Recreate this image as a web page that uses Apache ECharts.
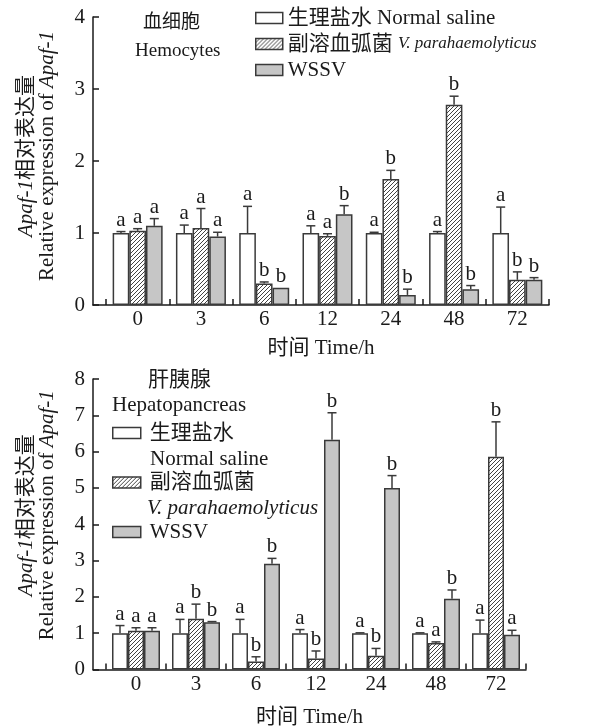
<!DOCTYPE html>
<html><head><meta charset="utf-8">
<script src="https://cdn.jsdelivr.net/npm/echarts@6/dist/echarts.min.js"></script>
<style>html,body{margin:0;padding:0;background:#fff}#c{width:594px;height:726px}</style>
</head><body><div id="c"></div>
<script>
// ---------- data ----------
const categories = ['0', '3', '6', '12', '24', '48', '72'];
const seriesNames = ['生理盐水 Normal saline', '副溶血弧菌 V. parahaemolyticus', 'WSSV'];

// Hemocytes (top panel): mean and top of error bar
const hemoNS    = [1.00, 1.00, 1.00, 1.00, 1.00, 1.00, 1.00];
const hemoNSErr = [1.02, 1.11, 1.37, 1.10, 1.01, 1.02, 1.36];
const hemoVP    = [1.03, 1.07, 0.30, 0.96, 1.75, 2.78, 0.35];
const hemoVPErr = [1.06, 1.34, 0.32, 0.99, 1.87, 2.90, 0.46];
const hemoWS    = [1.10, 0.95, 0.24, 1.26, 0.14, 0.22, 0.35];
const hemoWSErr = [1.20, 1.01, 0.24, 1.38, 0.22, 0.27, 0.38];
const hemoNSSig = ['a', 'a', 'a', 'a', 'a', 'a', 'a'];
const hemoVPSig = ['a', 'a', 'b', 'a', 'b', 'b', 'b'];
const hemoWSSig = ['a', 'a', 'b', 'b', 'b', 'b', 'b'];

// Hepatopancreas (bottom panel)
const hepaNS    = [1.00, 1.00, 1.00, 1.00, 1.00, 1.00, 1.00];
const hepaNSErr = [1.21, 1.38, 1.38, 1.10, 1.01, 1.01, 1.36];
const hepaVP    = [1.07, 1.40, 0.22, 0.30, 0.38, 0.73, 5.86];
const hepaVPErr = [1.15, 1.80, 0.35, 0.51, 0.58, 0.76, 6.82];
const hepaWS    = [1.07, 1.30, 2.91, 6.33, 5.00, 1.95, 0.96];
const hepaWSErr = [1.15, 1.32, 3.06, 7.07, 5.34, 2.19, 1.08];
const hepaNSSig = ['a', 'a', 'a', 'a', 'a', 'a', 'a'];
const hepaVPSig = ['a', 'b', 'b', 'b', 'b', 'a', 'b'];
const hepaWSSig = ['a', 'b', 'b', 'b', 'b', 'b', 'a'];

const yTicksTop = [0, 1, 2, 3, 4];
const yTicksBottom = [0, 1, 2, 3, 4, 5, 6, 7, 8];

// ---------- styles ----------
const FONT = "'Liberation Serif','Times New Roman','Noto Sans CJK SC',serif";
const INK = '#1a1a1a';
const EDGE = '#3a3a3a';

function hatchCanvas() {
  const s = 4;
  const c = document.createElement('canvas');
  c.width = s; c.height = s;
  const g = c.getContext('2d');
  g.fillStyle = '#ffffff'; g.fillRect(0, 0, s, s);
  g.strokeStyle = '#2e2e2e'; g.lineWidth = 0.9;
  g.beginPath();
  g.moveTo(0, s); g.lineTo(s, 0);
  g.moveTo(-1, 1); g.lineTo(1, -1);
  g.moveTo(s - 1, s + 1); g.lineTo(s + 1, s - 1);
  g.stroke();
  return c;
}
const hatch = { image: hatchCanvas(), repeat: 'repeat' };
const fills = ['#ffffff', hatch, '#c6c6c6'];

const axisLine = { show: true, onZero: false, lineStyle: { color: INK, width: 1.5 } };
const tickIn = { show: true, inside: true, length: 6, lineStyle: { color: INK, width: 1.5 } };
const yTitle = {
  name: '{i|Apaf-1}{n|相对表达量}\n{n|Relative expression of }{i|Apaf-1}',
  nameLocation: 'middle', nameRotate: 90, nameGap: 35,
};
const yTitleStyle = (padLeft) => ({
  fontFamily: FONT, fontSize: 21, color: INK, lineHeight: 21, padding: [0, 0, 0, padLeft],
  rich: {
    i: { fontFamily: FONT, fontStyle: 'italic', fontSize: 21, color: INK, lineHeight: 21 },
    n: { fontFamily: FONT, fontSize: 21, color: INK, lineHeight: 21 }
  }
});

function barSeries(k, data, xIdx, yIdx, catGap) {
  return {
    type: 'bar', name: seriesNames[k], xAxisIndex: xIdx, yAxisIndex: yIdx,
    data: data, barGap: '0%', barCategoryGap: catGap,
    itemStyle: { color: fills[k], borderColor: EDGE, borderWidth: 1.5 },
    emphasis: { disabled: true }, animation: false, z: 2
  };
}

function errSeries(k, mean, top, sig, xIdx, yIdx, catGapFrac) {
  return {
    type: 'custom', xAxisIndex: xIdx, yAxisIndex: yIdx, silent: true, animation: false, z: 5,
    clip: false,
    data: mean.map((m, i) => [i, m, top[i]]),
    renderItem: function (params, api) {
      const i = api.value(0), m = api.value(1), t = api.value(2);
      const b = api.coord([i, m]);
      const c = api.coord([i, t]);
      const band = api.size([1, 0])[0];
      const bw = band * (1 - catGapFrac) / 3;
      const cx = b[0] + (k - 1) * bw;
      const ch = [];
      if (t > m + 0.005) {
        ch.push({ type: 'line', shape: { x1: cx, y1: b[1], x2: cx, y2: c[1] }, style: { stroke: EDGE, lineWidth: 1.5 } });
        ch.push({ type: 'line', shape: { x1: cx - 4.5, y1: c[1], x2: cx + 4.5, y2: c[1] }, style: { stroke: EDGE, lineWidth: 1.5 } });
      }
      ch.push({ type: 'text', style: { text: sig[params.dataIndex], x: cx, y: c[1] - 1, align: 'center', verticalAlign: 'bottom',
        font: "21px " + FONT, fill: INK } });
      return { type: 'group', children: ch };
    }
  };
}

const legendFmtTop = function (name) {
  if (name === seriesNames[1]) return '副溶血弧菌 {i|V. parahaemolyticus}';
  return name;
};
const legendFmtBottom = function (name) {
  if (name === seriesNames[0]) return '生理盐水';
  if (name === seriesNames[1]) return '副溶血弧菌';
  return name;
};
const legendText = {
  fontFamily: FONT, fontSize: 21, color: INK, lineHeight: 22,
  rich: { i: { fontFamily: FONT, fontStyle: 'italic', fontSize: 17, color: INK, lineHeight: 22 } }
};

const gridBase = { outerBoundsMode: 'none', containLabel: false };

const option = {
  animation: false,
  backgroundColor: '#ffffff',
  textStyle: { fontFamily: FONT },
  grid: [
    Object.assign({ left: 93, top: 17, width: 456, height: 288 }, gridBase),      // frame top
    Object.assign({ left: 106, top: 17, width: 443, height: 288 }, gridBase),     // bars top
    Object.assign({ left: 93, top: 379, width: 433, height: 290.5 }, gridBase),   // frame bottom
    Object.assign({ left: 106, top: 379, width: 420, height: 290.5 }, gridBase)   // bars bottom
  ],
  xAxis: [
    { gridIndex: 0, type: 'value', min: 0, max: 1, axisLine: axisLine, axisTick: { show: false },
      axisLabel: { show: false }, splitLine: { show: false },
      name: '时间 Time/h', nameLocation: 'middle', nameGap: 33,
      nameTextStyle: { fontFamily: FONT, fontSize: 21, color: INK } },
    { gridIndex: 1, type: 'category', data: categories, axisLine: { show: false }, axisTick: tickIn,
      axisLabel: { fontFamily: FONT, fontSize: 21, color: INK, margin: 4 }, splitLine: { show: false } },
    { gridIndex: 2, type: 'value', min: 0, max: 1, axisLine: axisLine, axisTick: { show: false },
      axisLabel: { show: false }, splitLine: { show: false },
      name: '时间 Time/h', nameLocation: 'middle', nameGap: 37,
      nameTextStyle: { fontFamily: FONT, fontSize: 21, color: INK } },
    { gridIndex: 3, type: 'category', data: categories, axisLine: { show: false }, axisTick: tickIn,
      axisLabel: { fontFamily: FONT, fontSize: 21, color: INK, margin: 4 }, splitLine: { show: false } }
  ],
  yAxis: [
    Object.assign({ gridIndex: 0, type: 'value', min: yTicksTop[0], max: yTicksTop[yTicksTop.length - 1], interval: 1,
      axisLine: axisLine, axisTick: tickIn, splitLine: { show: false },
      axisLabel: { fontFamily: FONT, fontSize: 21, color: INK, margin: 8 },
      nameTextStyle: yTitleStyle(10) }, yTitle),
    { gridIndex: 1, type: 'value', min: yTicksTop[0], max: yTicksTop[yTicksTop.length - 1], show: false },
    Object.assign({ gridIndex: 2, type: 'value', min: yTicksBottom[0], max: yTicksBottom[yTicksBottom.length - 1], interval: 1,
      axisLine: axisLine, axisTick: tickIn, splitLine: { show: false },
      axisLabel: { fontFamily: FONT, fontSize: 21, color: INK, margin: 8 },
      nameTextStyle: yTitleStyle(18) }, yTitle),
    { gridIndex: 3, type: 'value', min: yTicksBottom[0], max: yTicksBottom[yTicksBottom.length - 1], show: false }
  ],
  legend: [
    { orient: 'vertical', left: 255, top: 7, padding: 0, icon: 'rect', itemWidth: 27, itemHeight: 11, itemGap: 4,
      selectedMode: false, data: seriesNames, formatter: legendFmtTop, textStyle: legendText,
      itemStyle: { borderColor: EDGE, borderWidth: 1.5 } },
    { orient: 'vertical', left: 112, top: 422, padding: 0, icon: 'rect', itemWidth: 28, itemHeight: 11, itemGap: 27.5,
      selectedMode: false, data: seriesNames, formatter: legendFmtBottom,
      textStyle: Object.assign({}, legendText, { padding: [0, 0, 0, 4] }),
      itemStyle: { borderColor: EDGE, borderWidth: 1.5 } }
  ],
  title: [
    { text: '血细胞', left: 143, top: 14, textStyle: { fontFamily: FONT, fontSize: 19, fontWeight: 'normal', color: INK } },
    { text: 'Hemocytes', left: 135, top: 42, textStyle: { fontFamily: FONT, fontSize: 19, fontWeight: 'normal', color: INK } },
    { text: '肝胰腺', left: 148, top: 370, textStyle: { fontFamily: FONT, fontSize: 21, fontWeight: 'normal', color: INK } },
    { text: 'Hepatopancreas', left: 112, top: 395, textStyle: { fontFamily: FONT, fontSize: 21, fontWeight: 'normal', color: INK } },
    { text: 'Normal saline', left: 150, top: 449, textStyle: { fontFamily: FONT, fontSize: 21, fontWeight: 'normal', color: INK } },
    { text: 'V. parahaemolyticus', left: 147, top: 498, textStyle: { fontFamily: FONT, fontSize: 21, fontWeight: 'normal', fontStyle: 'italic', color: INK } }
  ].map(t => Object.assign({ padding: 0 }, t)),
  series: [
    barSeries(0, hemoNS, 1, 1, '21%'),
    barSeries(1, hemoVP, 1, 1, '21%'),
    barSeries(2, hemoWS, 1, 1, '21%'),
    errSeries(0, hemoNS, hemoNSErr, hemoNSSig, 1, 1, 0.21),
    errSeries(1, hemoVP, hemoVPErr, hemoVPSig, 1, 1, 0.21),
    errSeries(2, hemoWS, hemoWSErr, hemoWSSig, 1, 1, 0.21),
    barSeries(0, hepaNS, 3, 3, '20%'),
    barSeries(1, hepaVP, 3, 3, '20%'),
    barSeries(2, hepaWS, 3, 3, '20%'),
    errSeries(0, hepaNS, hepaNSErr, hepaNSSig, 3, 3, 0.20),
    errSeries(1, hepaVP, hepaVPErr, hepaVPSig, 3, 3, 0.20),
    errSeries(2, hepaWS, hepaWSErr, hepaWSSig, 3, 3, 0.20)
  ]
};

const chart = echarts.init(document.getElementById('c'), null, { renderer: 'canvas' });
chart.setOption(option);
</script>
</body></html>
